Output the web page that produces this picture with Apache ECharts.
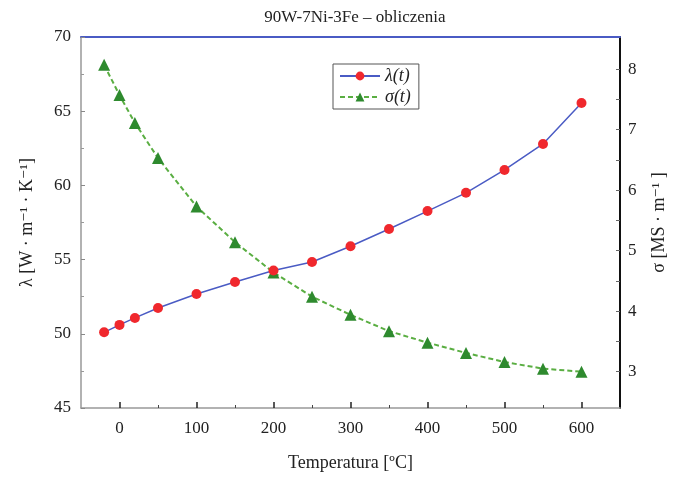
<!DOCTYPE html>
<html>
<head>
<meta charset="utf-8">
<script src="https://cdn.jsdelivr.net/npm/echarts@6/dist/echarts.min.js"></script>
<style>
html, body { margin: 0; padding: 0; background: #fff; }
#chart { width: 676px; height: 478px; }
</style>
</head>
<body>
<div id="chart"></div>
<script>
// temperatury [C]
var temps = [-20, 0, 20, 50, 100, 150, 200, 250, 300, 350, 400, 450, 500, 550, 600];
// lambda(t) [W/mK]
var lambdaVals = [50.1, 50.6, 51.07, 51.74, 52.68, 53.49, 54.27, 54.84, 55.9, 57.06, 58.27, 59.5, 61.04, 62.79, 65.55];
// sigma(t) [MS/m]
var sigmaVals = [8.07, 7.57, 7.11, 6.53, 5.73, 5.14, 4.64, 4.24, 3.94, 3.67, 3.48, 3.31, 3.16, 3.05, 3.0];

var xLabels = [0, 100, 200, 300, 400, 500, 600];
var xMinorTicks = [50, 150, 250, 350, 450, 550];
var rightLabels = [3, 4, 5, 6, 7, 8];
var rightTicks = [3, 3.5, 4, 4.5, 5, 5.5, 6, 6.5, 7, 7.5, 8];

var serif = '"Liberation Serif", "DejaVu Serif", serif';
var txt = { color: '#222', fontFamily: serif, fontSize: 17 };

function drawChart() {
    var chart = echarts.init(document.getElementById('chart'));
    var data1 = temps.map(function(t, i) { return [t, lambdaVals[i]]; });
    var data2 = temps.map(function(t, i) { return [t, sigmaVals[i]]; });
    var option = {
        animation: false,
        title: {
            text: '90W-7Ni-3Fe – obliczenia',
            left: 350,
            textAlign: 'center',
            top: 4,
            textStyle: { color: '#222', fontFamily: serif, fontSize: 17, fontWeight: 'normal' }
        },
        grid: { left: 81, right: 56, top: 37, bottom: 70 },
        legend: {
            orient: 'vertical',
            left: 333,
            top: 64,
            padding: [3, 8, 3, 6],
            itemGap: 3,
            itemWidth: 40,
            itemHeight: 11,
            borderColor: '#555',
            borderWidth: 1,
            backgroundColor: '#fff',
            textStyle: { color: '#222', fontFamily: serif, fontSize: 18, fontStyle: 'italic' },
            data: ['λ(t)', 'σ(t)']
        },
        xAxis: [{
            type: 'value',
            min: -50,
            max: 650,
            name: 'Temperatura [ºC]',
            nameLocation: 'middle',
            nameGap: 46,
            nameTextStyle: { color: '#222', fontFamily: serif, fontSize: 18 },
            axisLine: { onZero: false, lineStyle: { color: '#999', width: 1.5 } },
            axisTick: { inside: true, length: 6, lineStyle: { color: '#222', width: 1.5 }, customValues: xLabels },
            axisLabel: Object.assign({ margin: 12, customValues: xLabels }, txt),
            splitLine: { show: false }
        }, {
            type: 'value',
            position: 'top',
            min: -50,
            max: 650,
            axisLine: { show: true, onZero: false, lineStyle: { color: '#4a5bc4', width: 2 } },
            axisTick: { show: false },
            axisLabel: { show: false },
            splitLine: { show: false }
        }, {
            type: 'value',
            position: 'bottom',
            min: -50,
            max: 650,
            axisLine: { show: false, onZero: false },
            axisTick: { inside: true, length: 3, lineStyle: { color: '#444' }, customValues: xMinorTicks },
            axisLabel: { show: false },
            splitLine: { show: false }
        }],
        yAxis: [{
            type: 'value',
            min: 45,
            max: 70,
            interval: 5,
            name: 'λ [W · m⁻¹ · K⁻¹]',
            nameLocation: 'middle',
            nameGap: 45,
            nameTextStyle: { color: '#222', fontFamily: serif, fontSize: 18 },
            axisLine: { show: true, onZero: false, lineStyle: { color: '#999', width: 1.5 } },
            axisTick: { inside: true, length: 4, lineStyle: { color: '#888' } },
            minorTick: { show: true, splitNumber: 2, length: 3, lineStyle: { color: '#999' } },
            axisLabel: Object.assign({ margin: 10 }, txt),
            splitLine: { show: false }
        }, {
            type: 'value',
            position: 'right',
            min: 2.4,
            max: 8.53,
            name: 'σ [MS · m⁻¹ ]',
            nameLocation: 'middle',
            nameGap: 30,
            nameRotate: 90,
            nameTextStyle: { color: '#222', fontFamily: serif, fontSize: 18 },
            axisLine: { show: true, onZero: false, lineStyle: { color: '#111', width: 2 } },
            axisTick: { inside: true, length: 4, lineStyle: { color: '#666' }, customValues: rightTicks },
            axisLabel: Object.assign({ margin: 8, customValues: rightLabels }, txt),
            splitLine: { show: false }
        }],
        series: [{
            name: 'λ(t)',
            type: 'line',
            xAxisIndex: 0,
            yAxisIndex: 0,
            data: data1,
            symbol: 'circle',
            symbolSize: 10,
            itemStyle: { color: '#f0282d' },
            lineStyle: { color: '#4a5bc4', width: 1.5 },
            z: 3
        }, {
            name: 'σ(t)',
            type: 'line',
            xAxisIndex: 0,
            yAxisIndex: 1,
            data: data2,
            symbol: 'triangle',
            symbolSize: 12,
            itemStyle: { color: '#2e8a2e' },
            lineStyle: { color: '#5aae42', width: 2, type: [5, 3] },
            z: 2
        }]
    };
    chart.setOption(option);
}

drawChart();
</script>
</body>
</html>
